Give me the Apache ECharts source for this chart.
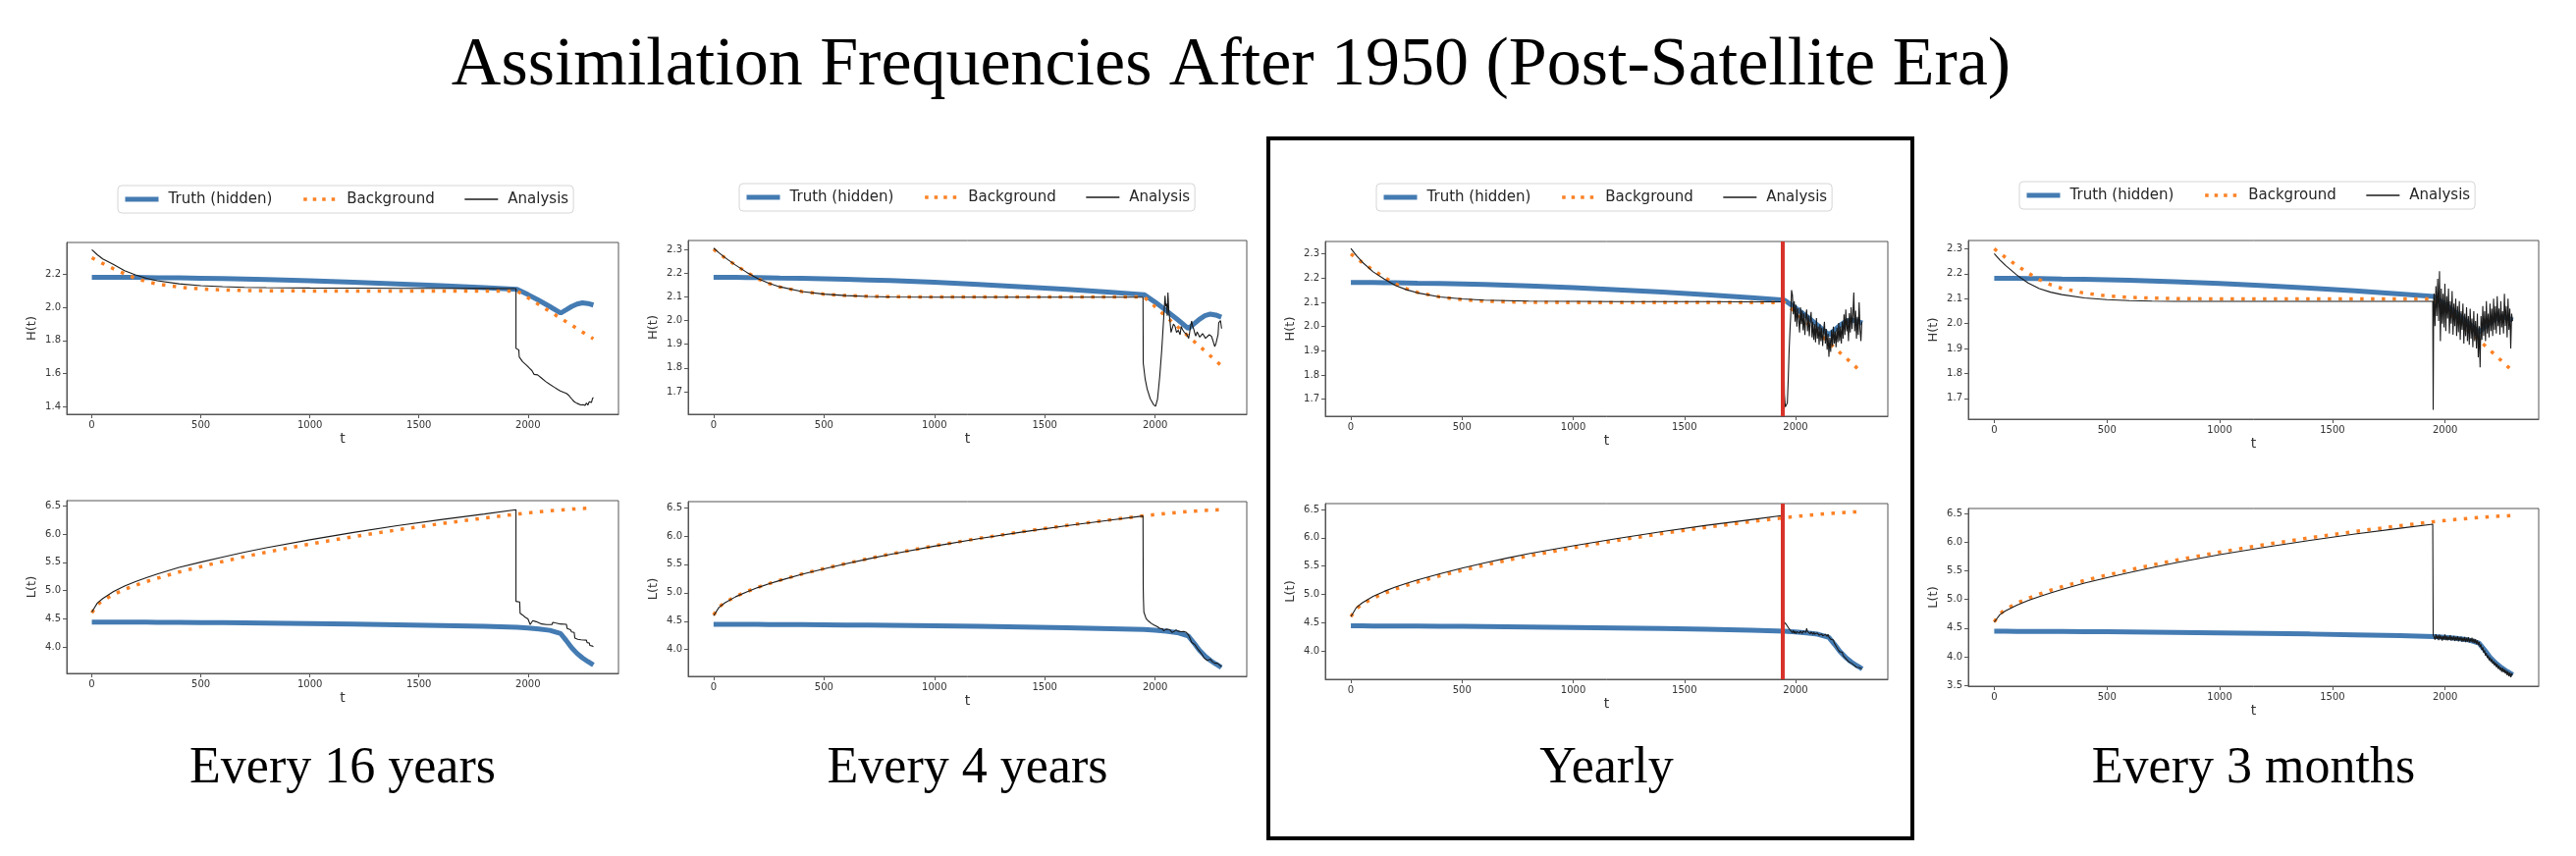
<!DOCTYPE html>
<html>
<head>
<meta charset="utf-8">
<title>Assimilation Frequencies After 1950</title>
<script src="https://cdn.jsdelivr.net/npm/echarts@6/dist/echarts.min.js"></script>
<style>
  html, body { margin: 0; padding: 0; background: #fff; }
  #main { width: 2624px; height: 872px; }
</style>
</head>
<body>
<div id="main"></div>
<script>
// ---- data ----
var tGrid = [0, 25, 50, 100, 150, 200, 250, 300, 400, 500, 600, 700, 800, 1000, 1200, 1400, 1600, 1800, 1950,
  2000, 2050, 2100, 2150, 2175, 2200, 2225, 2250, 2275, 2300];
var truthH = [2.182, 2.182, 2.182, 2.182, 2.181, 2.181, 2.180, 2.179, 2.178, 2.176, 2.174, 2.171, 2.168, 2.161, 2.152, 2.142, 2.131, 2.119, 2.109,
  2.077, 2.042, 2.005, 1.966, 1.985, 2.005, 2.020, 2.027, 2.023, 2.014];
var truthL = [4.445, 4.445, 4.445, 4.444, 4.444, 4.443, 4.442, 4.441, 4.439, 4.436, 4.433, 4.430, 4.426, 4.418, 4.408, 4.397, 4.384, 4.368, 4.352,
  4.340, 4.322, 4.298, 4.240, 4.120, 3.990, 3.890, 3.810, 3.745, 3.685];
var bgH = [2.300, 2.282, 2.265, 2.233, 2.203, 2.176, 2.156, 2.141, 2.122, 2.111, 2.105, 2.102, 2.100, 2.099, 2.099, 2.099, 2.099, 2.099, 2.099,
  2.058, 2.016, 1.975, 1.934, 1.913, 1.892, 1.872, 1.851, 1.830, 1.810];
var bgL = [4.610, 4.750, 4.825, 4.935, 5.020, 5.095, 5.160, 5.220, 5.330, 5.425, 5.515, 5.600, 5.680, 5.825, 5.955, 6.075, 6.185, 6.285, 6.355,
  6.375, 6.395, 6.412, 6.428, 6.435, 6.442, 6.448, 6.453, 6.458, 6.462];

// analysis before the satellite era, on tPre
var tPre = [0, 25, 50, 100, 150, 200, 250, 300, 400, 500, 600, 700, 800, 1000, 1200, 1400, 1600, 1800, 1945];
var preH16 = [2.348, 2.318, 2.293, 2.258, 2.222, 2.196, 2.176, 2.161, 2.142, 2.131, 2.125, 2.121, 2.119, 2.117, 2.116, 2.115, 2.115, 2.114, 2.113];
var preL16 = [4.620, 4.780, 4.860, 4.985, 5.080, 5.160, 5.230, 5.295, 5.410, 5.505, 5.595, 5.680, 5.760, 5.900, 6.030, 6.150, 6.255, 6.355, 6.430];
var preH4 = [2.305, 2.285, 2.266, 2.233, 2.203, 2.177, 2.157, 2.142, 2.122, 2.111, 2.105, 2.101, 2.099, 2.098, 2.098, 2.098, 2.098, 2.098, 2.098];
var preL4 = [4.595, 4.745, 4.820, 4.930, 5.015, 5.090, 5.155, 5.215, 5.325, 5.420, 5.510, 5.595, 5.675, 5.820, 5.950, 6.070, 6.180, 6.280, 6.350];
var preH1 = [2.322, 2.293, 2.267, 2.226, 2.196, 2.170, 2.152, 2.139, 2.122, 2.114, 2.109, 2.107, 2.105, 2.104, 2.103, 2.103, 2.103, 2.102, 2.102];
var preL1 = [4.608, 4.770, 4.850, 4.965, 5.055, 5.130, 5.195, 5.255, 5.365, 5.465, 5.555, 5.640, 5.720, 5.860, 5.990, 6.110, 6.220, 6.320, 6.395];
var preHq = [2.280, 2.255, 2.233, 2.195, 2.163, 2.140, 2.126, 2.116, 2.103, 2.096, 2.092, 2.090, 2.089, 2.089, 2.089, 2.089, 2.089, 2.089, 2.089];
var preLq = [4.605, 4.735, 4.800, 4.900, 4.980, 5.050, 5.115, 5.175, 5.285, 5.380, 5.470, 5.555, 5.635, 5.780, 5.910, 6.030, 6.140, 6.240, 6.310];

// analysis after 1950: [t, value]
var postH16 = [[1945,1.752],[1958,1.742],[1960,1.700],[1966,1.690],[1975,1.672],[1983,1.663],[1995,1.648],[2006,1.633],[2018,1.618],
  [2025,1.610],[2028,1.595],[2031,1.605],[2044,1.592],[2060,1.575],[2081,1.552],[2100,1.535],[2120,1.518],[2135,1.505],[2148,1.495],
  [2162,1.488],[2176,1.480],[2186,1.470],[2195,1.455],[2205,1.440],[2214,1.428],[2225,1.420],[2233,1.415],[2242,1.410],[2252,1.412],
  [2258,1.420],[2262,1.408],[2268,1.422],[2275,1.410],[2281,1.430],[2287,1.440],[2291,1.425],[2296,1.450],[2300,1.455]];
var postL16 = [[1945,4.810],[1962,4.800],[1964,4.600],[1975,4.570],[1987,4.530],[2000,4.500],[2010,4.400],[2018,4.385],[2022,4.470],
  [2038,4.450],[2045,4.420],[2063,4.410],[2085,4.400],[2110,4.400],[2114,4.440],[2125,4.430],[2130,4.410],[2148,4.410],[2176,4.405],
  [2180,4.330],[2195,4.310],[2200,4.270],[2212,4.260],[2215,4.160],[2228,4.140],[2243,4.130],[2268,4.125],[2271,4.080],[2281,4.075],
  [2284,4.030],[2296,4.020],[2300,4.010]];
var postH4 = [[1946,1.821],[1955,1.752],[1964,1.711],[1978,1.670],[1993,1.645],[2002,1.639],[2011,1.670],[2021,1.766],[2030,1.877],
  [2039,2.014],[2045,2.104],[2048,2.060],[2052,2.070],[2055,2.020],[2058,2.118],[2062,2.040],[2067,2.000],[2072,1.950],[2077,1.945],
  [2083,1.985],[2090,1.976],[2097,1.950],[2105,1.959],[2113,1.940],[2118,1.975],[2124,1.962],[2132,1.950],[2142,1.943],[2152,1.925],
  [2158,1.960],[2165,1.998],[2170,1.975],[2174,1.966],[2180,1.945],[2184,1.934],[2190,1.952],[2195,1.945],[2202,1.930],[2208,1.929],
  [2215,1.945],[2221,1.939],[2228,1.925],[2236,1.922],[2245,1.940],[2255,1.934],[2262,1.915],[2270,1.890],[2276,1.905],[2281,1.897],
  [2285,1.940],[2288,1.990],[2292,1.985],[2296,2.000],[2301,1.966]];
var postL4 = [[1946,5.110],[1947,4.890],[1949,4.660],[1959,4.546],[1970,4.500],[1983,4.460],[1995,4.430],[2011,4.400],[2020,4.375],
  [2028,4.350],[2033,4.365],[2039,4.330],[2045,4.345],[2050,4.360],[2058,4.335],[2066,4.350],[2077,4.300],[2085,4.320],[2095,4.345],
  [2104,4.325],[2114,4.316],[2122,4.335],[2130,4.320],[2135,4.330],[2142,4.300],[2150,4.262],[2158,4.200],[2165,4.130],[2172,4.110],
  [2180,4.086],[2188,4.040],[2195,4.000],[2202,3.980],[2208,3.940],[2215,3.900],[2221,3.856],[2228,3.840],[2236,3.810],[2243,3.840],
  [2251,3.830],[2258,3.790],[2264,3.770],[2270,3.760],[2277,3.730],[2282,3.760],[2288,3.770],[2294,3.720],[2301,3.695]];

// yearly and quarterly: short lead-in after the jump, then values every noiseStep
var noiseStep = 4;
var leadH1 = [[1947,1.920],[1950,1.720],[1954,1.668],[1959,1.666],[1963,1.685],[1967,1.780],[1971,1.900],[1975,1.985],[1979,2.060],[1982,2.150]];
var noiseH1Start = 1986;
var noiseH1 = [2.130, 2.050, 2.105, 2.020, 2.090, 2.000, 2.075, 2.030, 1.975, 2.080, 2.010, 2.065, 1.985, 2.055, 1.965, 2.040,
  2.070, 1.980, 2.045, 1.960, 2.025, 2.060, 1.955, 2.020, 1.945, 2.010, 1.935, 2.035, 1.950, 2.000, 1.925, 2.010,
  1.940, 1.995, 1.920, 1.985, 2.020, 1.930, 1.990, 1.905, 1.970, 1.875, 1.955, 1.895, 1.985, 1.920, 2.000, 1.930,
  1.980, 1.915, 1.995, 1.935, 2.015, 1.940, 2.000, 1.930, 2.020, 1.950, 2.050, 1.965, 2.070, 1.980, 2.035, 1.940,
  2.055, 1.975, 2.080, 1.990, 2.050, 2.140, 1.980, 2.065, 1.950, 2.040, 1.965, 2.100, 1.990, 1.940, 2.020];
var leadL1 = [[1945,4.530],[1950,4.500],[1960,4.460],[1970,4.400],[1978,4.360]];
var noiseL1Start = 1982;
var noiseL1 = [4.345, 4.325, 4.365, 4.315, 4.350, 4.305, 4.345, 4.320, 4.360, 4.315, 4.355, 4.325, 4.310, 4.350, 4.325, 4.370,
  4.330, 4.400, 4.345, 4.320, 4.345, 4.305, 4.340, 4.315, 4.295, 4.335, 4.300, 4.325, 4.285, 4.320, 4.295, 4.280,
  4.310, 4.275, 4.305, 4.270, 4.300, 4.265, 4.295, 4.305, 4.260, 4.295, 4.245, 4.260, 4.210, 4.230, 4.180, 4.195,
  4.145, 4.150, 4.090, 4.095, 4.035, 4.050, 3.990, 4.010, 3.960, 3.980, 3.920, 3.935, 3.885, 3.900, 3.850, 3.865,
  3.815, 3.805, 3.810, 3.790, 3.765, 3.795, 3.755, 3.740, 3.745, 3.715, 3.690, 3.685, 3.710, 3.695, 3.700, 3.690];
var leadHq = [[1947,1.654],[1949,2.090]];
var noiseHqStart = 1951;
var noiseHq = [2.120, 1.990, 2.150, 2.030, 2.180, 2.010, 2.210, 1.930, 2.140, 2.000, 2.120, 1.985, 2.160, 1.970, 2.110, 2.020,
  2.140, 1.960, 2.090, 2.000, 2.130, 1.955, 2.080, 1.990, 2.100, 1.950, 2.070, 1.965, 2.090, 1.935, 2.050, 1.975,
  2.080, 1.920, 2.040, 1.950, 2.065, 1.930, 2.030, 1.915, 2.060, 1.940, 2.020, 1.905, 2.050, 1.930, 2.010, 1.900,
  2.040, 1.865, 1.990, 1.825, 2.030, 1.935, 2.070, 1.950, 2.050, 1.930, 2.090, 1.960, 2.040, 1.945, 2.080, 1.970,
  2.060, 1.950, 2.100, 1.975, 2.070, 1.960, 2.110, 1.990, 2.060, 1.955, 2.090, 1.985, 2.050, 1.960, 2.120, 1.990,
  2.070, 1.945, 2.100, 1.975, 2.060, 1.900, 2.040, 2.010];
var leadLq = [[1947,4.380]];
var noiseLqStart = 1951;
var noiseLq = [4.375, 4.300, 4.395, 4.310, 4.370, 4.290, 4.385, 4.305, 4.365, 4.280, 4.360, 4.300, 4.390, 4.290, 4.360, 4.285,
  4.355, 4.295, 4.375, 4.280, 4.350, 4.290, 4.365, 4.275, 4.345, 4.285, 4.360, 4.270, 4.340, 4.280, 4.350, 4.260,
  4.335, 4.270, 4.345, 4.255, 4.330, 4.265, 4.340, 4.250, 4.320, 4.260, 4.335, 4.245, 4.315, 4.240, 4.305, 4.220,
  4.285, 4.205, 4.255, 4.170, 4.215, 4.120, 4.165, 4.070, 4.115, 4.020, 4.065, 3.980, 4.025, 3.940, 3.990, 3.910,
  3.960, 3.880, 3.925, 3.850, 3.900, 3.820, 3.875, 3.790, 3.845, 3.770, 3.815, 3.740, 3.805, 3.730, 3.785, 3.710,
  3.765, 3.680, 3.745, 3.660, 3.725, 3.645, 3.710, 3.680];

var satelliteStart = 1940;   // red marker in the "Yearly" panel

var panelTitles = ['Every 16 years', 'Every 4 years', 'Yearly', 'Every 3 months'];
var seriesNames = ['Truth (hidden)', 'Background', 'Analysis'];
var xTicks = [0, 500, 1000, 1500, 2000];
var hTicks16 = [1.4, 1.6, 1.8, 2.0, 2.2];
var hTicks = [1.7, 1.8, 1.9, 2.0, 2.1, 2.2, 2.3];
var lTicks = [4.0, 4.5, 5.0, 5.5, 6.0, 6.5];
var lTicksQ = [3.5, 4.0, 4.5, 5.0, 5.5, 6.0, 6.5];

// ---- layout ----
// [left, top, width, height] of each plot box, order: panel1 H, panel1 L, panel2 H, ...
var boxes = [
  [68, 247, 562, 175], [68, 510, 562, 176],
  [701, 245, 569, 177], [701, 511, 569, 178],
  [1350, 246, 573, 178], [1350, 513, 573, 179],
  [2005, 245, 581, 182], [2005, 518, 581, 181]
];
var yRanges = [
  [1.354, 2.392], [3.536, 6.592],
  [1.605, 2.337], [3.529, 6.603],
  [1.630, 2.351], [3.502, 6.604],
  [1.617, 2.333], [3.488, 6.585]
];
var yTickSets = [hTicks16, lTicks, hTicks, lTicks, hTicks, lTicks, hTicks, lTicksQ];
var legendPos = [[120, 189], [753, 187], [1402, 187], [2057, 185]];

function zip(ts, vs) { return ts.map(function (t, i) { return [t, vs[i]]; }); }
function sampled(t0, vs) { return vs.map(function (v, i) { return [t0 + i * noiseStep, v]; }); }

var analysis = [
  zip(tPre, preH16).concat(postH16),
  zip(tPre, preL16).concat(postL16),
  zip(tPre, preH4).concat(postH4),
  zip(tPre, preL4).concat(postL4),
  zip(tPre, preH1).concat(leadH1, sampled(noiseH1Start, noiseH1)),
  zip(tPre, preL1).concat(leadL1, sampled(noiseL1Start, noiseL1)),
  zip(tPre, preHq).concat(leadHq, sampled(noiseHqStart, noiseHq)),
  zip(tPre, preLq).concat(leadLq, sampled(noiseLqStart, noiseLq))
];
var truth = [zip(tGrid, truthH), zip(tGrid, truthL)];
var background = [zip(tGrid, bgH), zip(tGrid, bgL)];

var C_TRUTH = '#3a74ae', C_BG = '#fb8124', C_AN = '#1a1a1a', C_RED = '#d8332a';
var tickFont = 'DejaVu Sans';

var grids = [], xAxes = [], yAxes = [], series = [];
boxes.forEach(function (b, i) {
  var isH = i % 2 === 0;
  grids.push({
    left: b[0], top: b[1], width: b[2], height: b[3],
    show: true, borderColor: '#555', borderWidth: 1, backgroundColor: '#fff',
    containLabel: false, outerBoundsMode: 'none'
  });
  xAxes.push({
    type: 'value', gridIndex: i, min: -115, max: 2415,
    name: 't', nameLocation: 'middle', nameGap: 18,
    nameTextStyle: { fontFamily: tickFont, fontSize: 14, color: '#333' },
    axisLine: { show: true, onZero: false, lineStyle: { color: '#555', width: 1 } },
    axisTick: { show: true, length: 4, customValues: xTicks, lineStyle: { color: '#555' } },
    axisLabel: {
      customValues: xTicks, fontFamily: tickFont, fontSize: 10, color: '#333', margin: 6,
      formatter: function (v) { return String(v); }
    },
    splitLine: { show: false }
  });
  yAxes.push({
    type: 'value', gridIndex: i, min: yRanges[i][0], max: yRanges[i][1],
    name: isH ? 'H(t)' : 'L(t)', nameLocation: 'middle', nameGap: 29, nameRotate: 90,
    nameTextStyle: { fontFamily: tickFont, fontSize: 13, color: '#333' },
    axisLine: { show: true, onZero: false, lineStyle: { color: '#555', width: 1 } },
    axisTick: { show: true, length: 4, customValues: yTickSets[i], lineStyle: { color: '#555' } },
    axisLabel: {
      customValues: yTickSets[i], fontFamily: tickFont, fontSize: 10, color: '#333', margin: 6,
      formatter: function (v) { return v.toFixed(1); }
    },
    splitLine: { show: false }
  });
  var row = isH ? 0 : 1;
  series.push({
    name: seriesNames[0], type: 'line', xAxisIndex: i, yAxisIndex: i, data: truth[row],
    showSymbol: false, symbol: 'none', z: 2,
    lineStyle: { color: C_TRUTH, width: 5, opacity: 0.95 }, itemStyle: { color: C_TRUTH }
  });
  series.push({
    name: seriesNames[1], type: 'line', xAxisIndex: i, yAxisIndex: i, data: background[row],
    showSymbol: false, symbol: 'none', z: 3,
    lineStyle: { color: C_BG, width: 3.5, type: [3.5, 7.5], cap: 'butt' }, itemStyle: { color: C_BG }
  });
  var an = {
    name: seriesNames[2], type: 'line', xAxisIndex: i, yAxisIndex: i, data: analysis[i],
    showSymbol: false, symbol: 'none', z: 4,
    lineStyle: { color: C_AN, width: 1.1 }, itemStyle: { color: C_AN }
  };
  if (i === 4 || i === 5) {
    an.markLine = {
      silent: true, symbol: ['none', 'none'], label: { show: false },
      lineStyle: { color: C_RED, width: 4, type: 'solid', opacity: 1 },
      emphasis: { disabled: true },
      data: [{ xAxis: satelliteStart }]
    };
  }
  series.push(an);
});

var legendItems = [
  { name: seriesNames[0], lineStyle: { width: 5, color: C_TRUTH } },
  { name: seriesNames[1], lineStyle: { width: 3.5, color: C_BG, type: [3.5, 6], cap: 'butt' } },
  { name: seriesNames[2], lineStyle: { width: 1.3, color: C_AN } }
];
var legends = legendPos.map(function (p) {
  return {
    left: p[0], top: p[1], orient: 'horizontal',
    data: legendItems,
    itemWidth: 34, itemHeight: 14, itemGap: 30,
    padding: [6, 5],
    borderColor: '#d6d6d6', borderWidth: 1, borderRadius: 4,
    selectedMode: false,
    itemStyle: { opacity: 0 },
    textStyle: { fontFamily: tickFont, fontSize: 15, color: '#262626', lineHeight: 16, padding: [0, 0, 0, 5] }
  };
});

var graphics = [{
  type: 'text', x: 1254, y: 68,
  style: {
    text: 'Assimilation Frequencies After 1950 (Post-Satellite Era)',
    font: '70px "Liberation Serif"', fill: '#000', align: 'center', verticalAlign: 'middle'
  }
}, {
  type: 'rect', shape: { x: 1292, y: 141, width: 656, height: 713 },
  style: { fill: 'none', stroke: '#000', lineWidth: 4 }
}];
panelTitles.forEach(function (txt, k) {
  var b = boxes[k * 2];
  graphics.push({
    type: 'text', x: b[0] + b[2] / 2, y: 783,
    style: { text: txt, font: '52px "Liberation Serif"', fill: '#000', align: 'center', verticalAlign: 'middle' }
  });
});

var myChart = echarts.init(document.getElementById('main'));
var option = {
  animation: false,
  backgroundColor: '#fff',
  legend: legends,
  grid: grids,
  xAxis: xAxes,
  yAxis: yAxes,
  series: series,
  graphic: graphics
};
myChart.setOption(option);
</script>
</body>
</html>
